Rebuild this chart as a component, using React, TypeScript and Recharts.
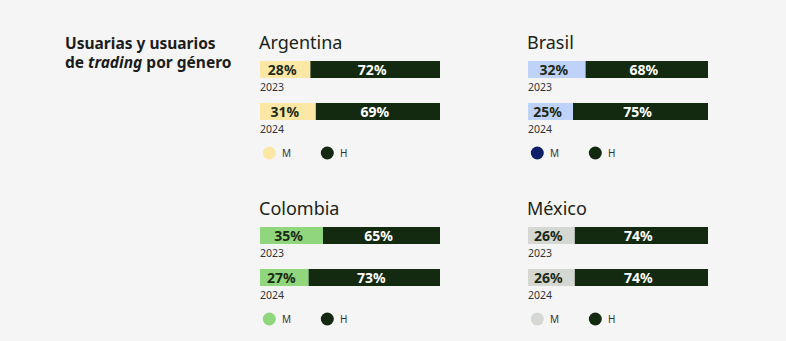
import React from 'react'
import { Bar, BarChart, LabelList, Legend, XAxis, YAxis } from 'recharts'

const years = ['2023', '2024']
const countries = ['Argentina', 'Brasil', 'Colombia', 'México']

const argentinaM = [28, 31]
const argentinaH = [72, 69]
const brasilM = [32, 25]
const brasilH = [68, 75]
const colombiaM = [35, 27]
const colombiaH = [65, 73]
const mexicoM = [26, 26]
const mexicoH = [74, 74]

const seriesM = [argentinaM, brasilM, colombiaM, mexicoM]
const seriesH = [argentinaH, brasilH, colombiaH, mexicoH]

const barColorsM = ['#fce8a4', '#bfd3fa', '#8fd67d', '#d4d7d2']
const legendColorsM = ['#fce8a4', '#0d1f66', '#8fd67d', '#d4d7d2']
const colorH = '#132a10'

const font = '"Noto Sans", "Open Sans", sans-serif'
const panelPos = [
  { left: 260, top: 48 },
  { left: 528, top: 48 },
  { left: 260, top: 214 },
  { left: 528, top: 214 },
]
const legendOrder = ['m', 'h']

const innerLabel = (color: string) => (props: any) => {
  const { x, y, width, height, value } = props
  return (
    <text
      x={x + width / 2 - 3}
      y={y + height / 2 + 5}
      textAnchor="middle"
      fill={color}
      fontFamily={font}
      fontWeight={700}
      fontSize={14}
    >
      {value}%
    </text>
  )
}

const yearLabel = (props: any) => {
  const { y, height, value } = props
  return (
    <text x={0} y={y + height + 13} fill="#333" fontFamily={font} fontSize={10.5}>
      {value}
    </text>
  )
}

function Panel({ idx }: { idx: number }) {
  const rows = years.map((year, i) => ({ year, m: seriesM[idx][i], h: seriesH[idx][i] }))
  const pos = panelPos[idx]
  const legendColor: Record<string, string> = { m: legendColorsM[idx], h: colorH }
  const renderLegend = (props: any) => {
    const items = [...(props.payload || [])].sort(
      (a: any, b: any) => legendOrder.indexOf(a.dataKey) - legendOrder.indexOf(b.dataKey)
    )
    return (
      <svg width={180} height={16}>
        {items.map((p: any, i: number) => (
          <g key={p.value} transform={`translate(${i * 58}, 0)`}>
            <circle cx={9.3} cy={8} r={6.5} fill={legendColor[p.dataKey]} />
            <text x={22} y={11.5} fontFamily={font} fontSize={10} fill="#333">
              {p.value}
            </text>
          </g>
        ))}
      </svg>
    )
  }
  return (
    <div style={{ position: 'absolute', left: pos.left, top: pos.top }}>
      <div
        style={{
          position: 'absolute',
          left: -1,
          top: -15,
          fontFamily: font,
          fontSize: 18,
          color: '#1b2419',
          lineHeight: '18px',
          whiteSpace: 'nowrap',
        }}
      >
        {countries[idx]}
      </div>
      <BarChart
        width={182}
        height={124}
        layout="vertical"
        data={rows}
        margin={{ top: 0, right: 2, bottom: 40, left: 0 }}
        style={{ overflow: 'visible' }}
      >
        <XAxis type="number" domain={[0, 100]} hide />
        <YAxis type="category" dataKey="year" hide />
        <Legend
          layout="horizontal"
          verticalAlign="middle"
          align="center"
          content={renderLegend}
          wrapperStyle={{ position: 'absolute', top: 97, left: 0, width: 180 }}
        />
        <Bar dataKey="m" name="M" stackId="a" fill={barColorsM[idx]} barSize={17} isAnimationActive={false}>
          <LabelList dataKey="m" content={innerLabel('#1b2a16')} />
          <LabelList dataKey="year" content={yearLabel} />
        </Bar>
        <Bar dataKey="h" name="H" stackId="a" fill={colorH} barSize={17} isAnimationActive={false}>
          <LabelList dataKey="h" content={innerLabel('#ffffff')} />
        </Bar>
      </BarChart>
    </div>
  )
}

const titleLine = {
  position: 'absolute' as const,
  left: 65,
  fontFamily: font,
  fontWeight: 700,
  fontSize: 15.5,
  lineHeight: '16px',
  color: '#1c1c1c',
  whiteSpace: 'nowrap' as const,
}

export default function App() {
  return (
    <div
      style={{
        position: 'fixed',
        left: 0,
        top: 0,
        width: 786,
        height: 341,
        background: '#f5f5f5',
        overflow: 'hidden',
      }}
    >
      <div style={{ ...titleLine, top: 35 }}>Usuarias y usuarios</div>
      <div style={{ ...titleLine, top: 54 }}>
        de <i>trading</i> por género
      </div>
      {countries.map((_, i) => (
        <Panel key={i} idx={i} />
      ))}
    </div>
  )
}
